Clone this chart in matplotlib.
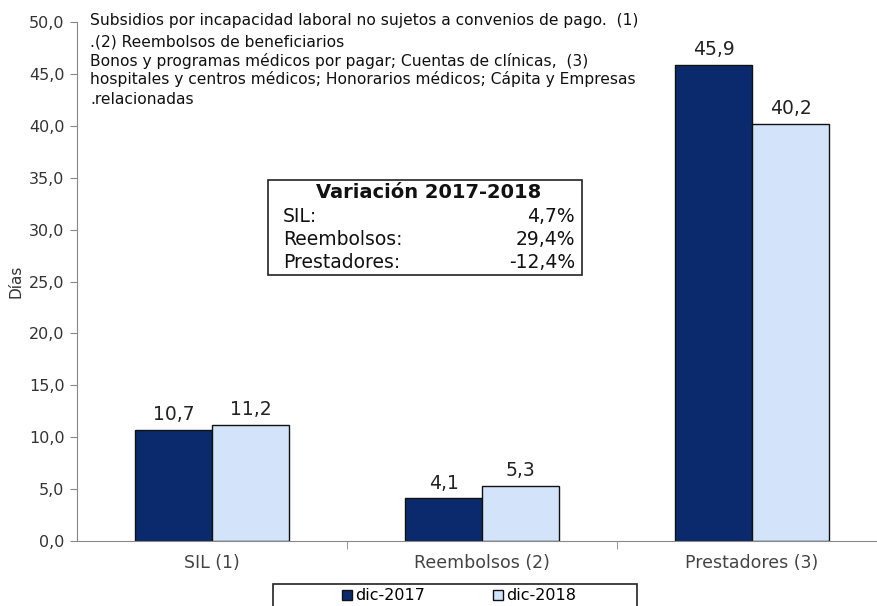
import matplotlib
matplotlib.use("Agg")
import matplotlib.pyplot as plt
from matplotlib.patches import Rectangle

categories = ["SIL (1)", "Reembolsos (2)", "Prestadores (3)"]
dic2017 = [10.7, 4.1, 45.9]
dic2018 = [11.2, 5.3, 40.2]
series_names = ["dic-2017", "dic-2018"]
var_labels = ["SIL:", "Reembolsos:", "Prestadores:"]
var_values = ["4,7%", "29,4%", "-12,4%"]
note_lines = ["Subsidios por incapacidad laboral no sujetos a convenios de pago.  (1)",
              ".(2) Reembolsos de beneficiarios",
              "Bonos y programas médicos por pagar; Cuentas de clínicas,  (3)",
              "hospitales y centros médicos; Honorarios médicos; Cápita y Empresas",
              ".relacionadas"]

plt.rcParams['font.family'] = ['DejaVu Sans']
W, H = 878, 606
fig = plt.figure(figsize=(W/100, H/100), dpi=100)
ax = fig.add_axes([77/W, (H-541)/H, 810/W, 519/H])

dark = "#0B2A6E"
light = "#D3E4FA"
bw = 0.285
x = list(range(len(categories)))
b1 = ax.bar([i - bw/2 for i in x], dic2017, width=bw, color=dark, edgecolor="#111111", linewidth=1.0, label=series_names[0])
b2 = ax.bar([i + bw/2 for i in x], dic2018, width=bw, color=light, edgecolor="#111111", linewidth=1.0, label=series_names[1])

def fmt(v):
    return f"{v:.1f}".replace(".", ",")

for bars, vals in ((b1, dic2017), (b2, dic2018)):
    for r, v in zip(bars, vals):
        ax.text(r.get_x() + r.get_width()/2, v + 0.55, fmt(v), ha="center", va="bottom",
                fontsize=13.5, color="#222222")

ax.set_xlim(-0.5, 2.5)
ax.set_ylim(0, 50)
ax.set_yticks([i*5 for i in range(11)])
ax.set_yticklabels([fmt(i*5.0) for i in range(11)], fontsize=11.5, color="#333333")
ax.set_xticks(x)
ax.set_xticklabels(categories, fontsize=12.5, color="#444444")
ax.tick_params(axis="x", length=0, pad=9)
ax.set_xticks([0.5, 1.5], minor=True)
ax.tick_params(axis="x", which="minor", length=6, color="#888888", direction="out")
ax.tick_params(axis="y", length=5, color="#888888", direction="out", pad=4)
for s in ["top", "right"]:
    ax.spines[s].set_visible(False)
ax.spines["left"].set_color("#888888")
ax.spines["bottom"].set_color("#888888")
ax.set_ylabel("Días", fontsize=11, color="#333333", labelpad=4)

for yy, line in zip([20, 42, 61, 79, 99], note_lines):
    fig.text(90/W, 1 - yy/H, line, ha="left", va="center", fontsize=11.2, color="#111111")

# Variation box
fig.patches.append(Rectangle((268/W, 1 - 275/H), 314/W, 95/H, transform=fig.transFigure,
                             facecolor="white", edgecolor="#222222", linewidth=1.2))
fig.text(429/W, 1 - 193/H, "Variación 2017-2018", ha="center", va="center", fontsize=14,
         fontweight="bold", color="#111111")
for i, (lab, val) in enumerate(zip(var_labels, var_values)):
    yy = 1 - (216 + i*23)/H
    fig.text(283/W, yy, lab, ha="left", va="center", fontsize=13.5, color="#111111")
    fig.text(575/W, yy, val, ha="right", va="center", fontsize=13.5, color="#111111")

# Legend box
fig.patches.append(Rectangle((273/W, 1 - 612/H), 364/W, 28/H, transform=fig.transFigure,
                             facecolor="white", edgecolor="#222222", linewidth=1.2))
leg = fig.legend(handles=[b1, b2], labels=series_names, loc="center",
                 bbox_to_anchor=(459/W, 1 - 596/H), ncol=2, fontsize=11.5, frameon=False,
                 handlelength=0.6, handleheight=0.6,
                 handletextpad=0.2, columnspacing=4.3, borderpad=0.0)

fig.savefig("out.png", dpi=100)
